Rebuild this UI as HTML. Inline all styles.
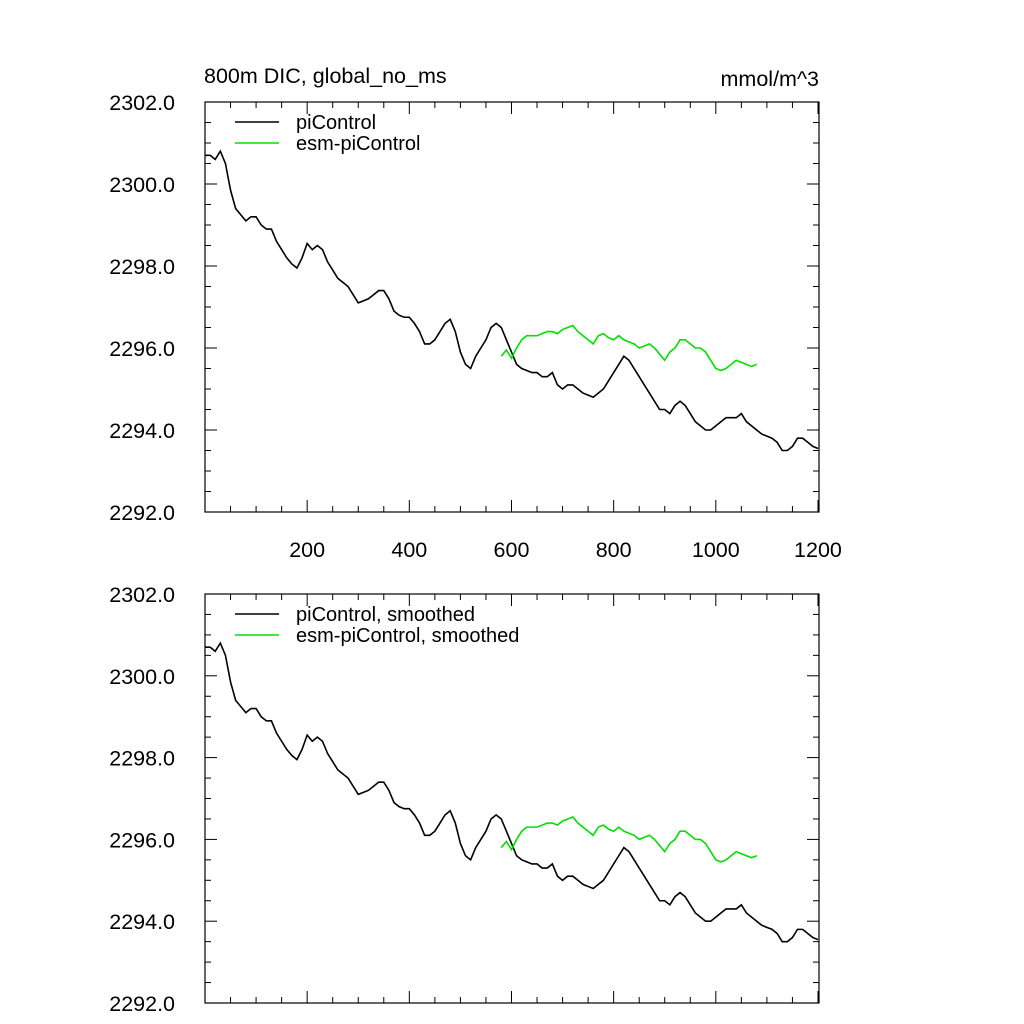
<!DOCTYPE html>
<html><head><meta charset="utf-8"><style>
html,body{margin:0;padding:0;background:#fff;}
svg{display:block;font-family:"Liberation Sans",Arial,sans-serif;}
</style></head><body>
<svg id="chart" width="1024" height="1024" viewBox="0 0 1024 1024">
<text x="204" y="83" font-size="21.5">800m DIC, global_no_ms</text>
<text x="819" y="86" font-size="21.5" text-anchor="end">mmol/m^3</text>
</svg>
<script>
const years = [];
for (let y = 0; y <= 1200; y += 10) years.push(y);
const piControl = [2300.7,2300.7,2300.6,2300.8,2300.5,2299.85,2299.4,2299.25,2299.1,2299.2,2299.2,2299.0,2298.9,2298.9,2298.6,2298.4,2298.2,2298.05,2297.95,2298.2,2298.55,2298.4,2298.5,2298.4,2298.1,2297.9,2297.7,2297.6,2297.5,2297.3,2297.1,2297.15,2297.2,2297.3,2297.4,2297.4,2297.2,2296.9,2296.8,2296.75,2296.75,2296.6,2296.4,2296.1,2296.1,2296.2,2296.4,2296.6,2296.7,2296.4,2295.9,2295.6,2295.5,2295.8,2296.0,2296.2,2296.5,2296.6,2296.5,2296.2,2295.9,2295.6,2295.5,2295.45,2295.4,2295.4,2295.3,2295.3,2295.4,2295.1,2295.0,2295.1,2295.1,2295.0,2294.9,2294.85,2294.8,2294.9,2295.0,2295.2,2295.4,2295.6,2295.8,2295.7,2295.5,2295.3,2295.1,2294.9,2294.7,2294.5,2294.5,2294.4,2294.6,2294.7,2294.6,2294.4,2294.2,2294.1,2294.0,2294.0,2294.1,2294.2,2294.3,2294.3,2294.3,2294.4,2294.2,2294.1,2294.0,2293.9,2293.85,2293.8,2293.7,2293.5,2293.5,2293.6,2293.8,2293.8,2293.7,2293.6,2293.55];
const esmYears = [];
for (let y = 580; y <= 1080; y += 10) esmYears.push(y);
const esmPiControl = [2295.8,2295.95,2295.75,2296.0,2296.2,2296.3,2296.3,2296.3,2296.35,2296.4,2296.4,2296.35,2296.45,2296.5,2296.55,2296.4,2296.3,2296.2,2296.1,2296.3,2296.35,2296.25,2296.2,2296.3,2296.2,2296.15,2296.1,2296.0,2296.05,2296.1,2296.0,2295.85,2295.7,2295.9,2296.0,2296.2,2296.2,2296.1,2296.0,2296.0,2295.9,2295.7,2295.5,2295.45,2295.5,2295.6,2295.7,2295.65,2295.6,2295.55,2295.6];
const yTicks = [2292,2294,2296,2298,2300,2302];
const xTicks = [200,400,600,800,1000,1200];

const NS = "http://www.w3.org/2000/svg";
const svg = document.getElementById('chart');
function el(tag, attrs, parent) {
  const e = document.createElementNS(NS, tag);
  for (const k in attrs) e.setAttribute(k, attrs[k]);
  (parent || svg).appendChild(e);
  return e;
}
const X0 = 205, X1 = 819, XMAX = 1202;
function panel(top, bottom, name, showX, labels) {
  const g = el('g', {});
  
  
  const xs = v => X0 + v / XMAX * (X1 - X0);
  const ys = v => bottom - (v - 2292) / 10 * (bottom - top);
  const frame = el('rect', {x: X0, y: top, width: X1 - X0, height: bottom - top, fill: 'none', stroke: '#000', 'stroke-width': 1.2}, g);
  
  
  for (let v = 2292; v <= 2302.001; v += 0.5) {
    const major = Math.abs(v - Math.round(v / 2) * 2) < 1e-6;
    const L = major ? 12 : 6, y = ys(v);
    el('line', {x1: X0, x2: X0 + L, y1: y, y2: y, stroke: '#000', 'stroke-width': 1}, g);
    el('line', {x1: X1, x2: X1 - L, y1: y, y2: y, stroke: '#000', 'stroke-width': 1}, g);
  }
  yTicks.forEach(v => {
    const t = el('text', {x: 175, y: ys(v) + 8, 'font-size': 21.5, 'text-anchor': 'end'}, g);
    t.textContent = v.toFixed(1);
    
    
  });
  for (let v = 50; v <= 1200; v += 50) {
    const major = v % 200 === 0;
    const L = major ? 12 : 6, x = xs(v);
    el('line', {x1: x, x2: x, y1: bottom, y2: bottom - L, stroke: '#000', 'stroke-width': 1}, g);
    el('line', {x1: x, x2: x, y1: top, y2: top + L, stroke: '#000', 'stroke-width': 1}, g);
  }
  if (showX) xTicks.forEach(v => {
    const t = el('text', {x: xs(v), y: bottom + 45, 'font-size': 21.5, 'text-anchor': 'middle'}, g);
    t.textContent = v;
    
    
  });
  const p1 = el('polyline', {points: years.map((yr, i) => xs(yr) + ',' + ys(piControl[i])).join(' '), fill: 'none', stroke: '#000', 'stroke-width': 1.6}, g);
  
  
  const p2 = el('polyline', {points: esmYears.map((yr, i) => xs(yr) + ',' + ys(esmPiControl[i])).join(' '), fill: 'none', stroke: '#00e000', 'stroke-width': 1.6}, g);
  
  
  [['#000', labels[0]], ['#00e000', labels[1]]].forEach((d, i) => {
    const ly = top + 20 + i * 21;
    const ln = el('line', {x1: 235, x2: 279, y1: ly, y2: ly, stroke: d[0], 'stroke-width': 1.5}, g);
    
    
    const t = el('text', {x: 296, y: ly + 7, 'font-size': 20}, g);
    t.textContent = d[1];
    
    
  });
}
panel(102, 512, 'top-panel', true, ['piControl', 'esm-piControl']);
panel(594, 1003, 'bottom-panel', false, ['piControl, smoothed', 'esm-piControl, smoothed']);
</script>
</body></html>
